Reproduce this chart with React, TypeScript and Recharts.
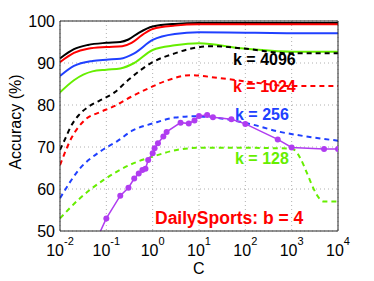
import React from 'react';
import { LineChart, Line, XAxis, YAxis, CartesianGrid } from 'recharts';

const blackSolidC = [0.01, 0.02, 0.04, 0.1, 0.2, 0.3, 0.5, 1, 3, 10, 100, 1000, 10000];
const blackSolidAcc = [91.1, 93.3, 94.3, 94.8, 95.0, 95.6, 97.2, 98.7, 99.3, 99.5, 99.5, 99.5, 99.5];
const redSolidC = [0.01, 0.02, 0.04, 0.1, 0.22, 0.35, 0.6, 1, 3, 10, 100, 1000, 10000];
const redSolidAcc = [90.2, 92.4, 93.4, 93.8, 94.0, 94.8, 96.7, 98.1, 98.9, 99.2, 99.2, 99.2, 99.2];
const blueSolidC = [0.01, 0.02, 0.05, 0.1, 0.2, 0.4, 1, 3, 10, 100, 1000, 10000];
const blueSolidAcc = [86.9, 89.3, 90.5, 90.8, 91.0, 92.3, 95.5, 96.9, 97.3, 97.2, 97.1, 97.1];
const greenSolidC = [0.01, 0.02, 0.05, 0.1, 0.2, 0.4, 1, 3, 10, 80, 1000, 10000];
const greenSolidAcc = [83.0, 85.9, 88.0, 88.4, 88.7, 90.0, 93.1, 94.2, 94.7, 93.5, 92.7, 92.7];

const blackDashC = [0.01, 0.013, 0.017, 0.025, 0.04, 0.07, 0.15, 0.3, 1, 3, 6, 20, 80, 1000, 10000];
const blackDashAcc = [69.3, 72.0, 74.8, 77.5, 79.5, 81.0, 83.0, 86.0, 90.2, 92.3, 93.3, 94.0, 93.5, 92.3, 92.3];
const redDashC = [0.01, 0.018, 0.035, 0.073, 0.14, 0.35, 0.75, 2, 6.4, 28, 125, 1000, 10000];
const redDashAcc = [65.7, 72.3, 76.5, 78.3, 79.6, 82.0, 83.8, 85.8, 87.1, 86.4, 85.5, 84.5, 84.5];
const blueDashC = [0.01, 0.027, 0.073, 0.167, 0.38, 1, 3, 8, 30, 125, 560, 2100, 10000];
const blueDashAcc = [57.8, 64.9, 68.9, 71.3, 74.0, 75.6, 77.0, 77.3, 76.8, 75.5, 73.6, 72.5, 71.5];
const greenDashC = [0.01, 0.027, 0.086, 0.38, 1, 3.3, 10, 100, 1000, 5000, 10000];
const greenDashAcc = [53.0, 57.8, 62.1, 66.1, 67.7, 69.3, 69.8, 69.8, 69.6, 57.0, 57.0];

const purpleC = [0.05, 0.1, 0.2, 0.3, 0.4, 0.5, 0.6, 0.7, 0.8, 1, 1.1, 1.3, 1.7, 2, 4, 6, 8, 10, 15, 20, 50, 100, 500, 1000, 5000, 10000];
const purpleAcc = [45.8, 53.0, 58.4, 60.3, 62.5, 63.7, 64.5, 64.8, 66.9, 68.5, 69.7, 70.9, 72.5, 73.6, 75.8, 75.6, 76.3, 77.4, 77.6, 77.1, 76.6, 75.5, 71.8, 69.9, 69.5, 69.5];

const xMajorTicks = [0.01, 0.1, 1, 10, 100, 1000, 10000];
const xMinorTicks: number[] = [];
for (let e = -2; e < 4; e++) {
  for (let m = 2; m <= 9; m++) xMinorTicks.push(m * Math.pow(10, e));
}
const yTicks = [50, 60, 70, 80, 90, 100];

const build = (xs: number[], ys: number[]) => xs.map((c, i) => ({ c, acc: ys[i] }));

const RED = '#ff0000';
const BLUE = '#2040ff';
const GREEN = '#66ee00';
const PURPLE = '#b03cf0';
const FRAME = '#262626';

const series = [
  { name: 'solidBlack', data: build(blackSolidC, blackSolidAcc), color: '#000000', dash: undefined },
  { name: 'solidRed', data: build(redSolidC, redSolidAcc), color: RED, dash: undefined },
  { name: 'solidBlue', data: build(blueSolidC, blueSolidAcc), color: BLUE, dash: undefined },
  { name: 'solidGreen', data: build(greenSolidC, greenSolidAcc), color: GREEN, dash: undefined },
  { name: 'dashBlack', data: build(blackDashC, blackDashAcc), color: '#000000', dash: '5 4' },
  { name: 'dashRed', data: build(redDashC, redDashAcc), color: RED, dash: '5 4' },
  { name: 'dashBlue', data: build(blueDashC, blueDashAcc), color: BLUE, dash: '5 4' },
  { name: 'dashGreen', data: build(greenDashC, greenDashAcc), color: GREEN, dash: '5 4' },
];
const purpleData = build(purpleC, purpleAcc);

const FONT = '"Liberation Sans", Arial, Helvetica, sans-serif';

const XTick = (props: any) => {
  const { x, y, payload } = props;
  const exp = Math.round(Math.log10(payload.value));
  return (
    <text x={x} y={y + 25} textAnchor="middle" fontFamily={FONT} fill="#000">
      <tspan fontSize={16}>10</tspan>
      <tspan fontSize={11} dy={-11}>{String(exp)}</tspan>
    </text>
  );
};

const xCommon = {
  type: 'number' as const,
  scale: 'log' as const,
  domain: [0.01, 10000],
  allowDataOverflow: true,
  dataKey: 'c',
};
const yCommon = {
  type: 'number' as const,
  domain: [50, 100],
  allowDataOverflow: true,
};

const labelStyle = (color: string, left: number, top: number, size = 16): React.CSSProperties => ({
  position: 'absolute',
  left,
  top,
  color,
  fontFamily: FONT,
  fontWeight: 'bold',
  fontSize: size,
  lineHeight: '1',
  whiteSpace: 'nowrap',
});

export default function App() {
  return (
    <div style={{ position: 'absolute', left: 0, top: 0, width: 374, height: 281, background: '#fff' }}>
      <LineChart width={374} height={281} margin={{ top: 21, right: 36, bottom: 0, left: 0 }}>
        <CartesianGrid stroke="#b0b0b0" strokeDasharray="1 3" strokeWidth={1} />
        <XAxis
          {...xCommon}
          xAxisId={0}
          ticks={xMajorTicks}
          tick={<XTick />}
          tickLine={false}
          tickSize={0}
          tickMargin={0}
          axisLine={{ stroke: FRAME }}
          height={50}
          interval={0}
        />
        <XAxis {...xCommon} xAxisId="bmaj" ticks={xMajorTicks} mirror tick={false} tickSize={5} tickLine={{ stroke: FRAME }} axisLine={false} interval={0} />
        <XAxis {...xCommon} xAxisId="bmin" ticks={xMinorTicks} mirror tick={false} tickSize={3} tickLine={{ stroke: FRAME }} axisLine={false} interval={0} />
        <XAxis {...xCommon} xAxisId="tmaj" orientation="top" ticks={xMajorTicks} mirror tick={false} tickSize={5} tickLine={{ stroke: FRAME }} axisLine={{ stroke: FRAME }} interval={0} />
        <XAxis {...xCommon} xAxisId="tmin" orientation="top" ticks={xMinorTicks} mirror tick={false} tickSize={3} tickLine={{ stroke: FRAME }} axisLine={false} interval={0} />
        <YAxis
          {...yCommon}
          yAxisId={0}
          ticks={yTicks}
          width={60}
          tickLine={false}
          tickSize={0}
          tickMargin={5}
          axisLine={{ stroke: FRAME }}
          tick={{ fill: '#000', fontSize: 16, fontFamily: FONT }}
          interval={0}
        />
        <YAxis {...yCommon} yAxisId="lmaj" ticks={yTicks} mirror tick={false} tickSize={5} tickLine={{ stroke: FRAME }} axisLine={false} interval={0} />
        <YAxis {...yCommon} yAxisId="rmaj" orientation="right" ticks={yTicks} mirror tick={false} tickSize={5} tickLine={{ stroke: FRAME }} axisLine={{ stroke: FRAME }} interval={0} />
        {series.map((s) => (
          <Line
            key={s.name}
            data={s.data}
            dataKey="acc"
            type="monotone"
            stroke={s.color}
            strokeWidth={2}
            strokeDasharray={s.dash}
            dot={false}
            activeDot={false}
            isAnimationActive={false}
          />
        ))}
        <Line
          data={purpleData}
          dataKey="acc"
          type="linear"
          stroke={PURPLE}
          strokeWidth={1.5}
          dot={{ r: 3, fill: PURPLE, stroke: PURPLE, strokeWidth: 0 }}
          activeDot={false}
          isAnimationActive={false}
        />
      </LineChart>
      <div style={labelStyle('#000', 233, 52)}>k = 4096</div>
      <div style={labelStyle(RED, 233, 79)}>k = 1024</div>
      <div style={labelStyle(BLUE, 235, 107)}>k = 256</div>
      <div style={labelStyle(GREEN, 235, 151)}>k = 128</div>
      <div style={labelStyle(RED, 155, 210, 17.5)}>DailySports: b = 4</div>
      <div style={{ position: 'absolute', left: 193, top: 261, fontFamily: FONT, fontSize: 16, lineHeight: '1', color: '#000' }}>C</div>
      <div
        style={{
          position: 'absolute',
          left: 16,
          top: 122,
          transform: 'translate(-50%, -50%) rotate(-90deg)',
          fontFamily: FONT,
          fontSize: 16,
          lineHeight: '1',
          whiteSpace: 'nowrap',
          color: '#000',
        }}
      >
        Accuracy (%)
      </div>
    </div>
  );
}
